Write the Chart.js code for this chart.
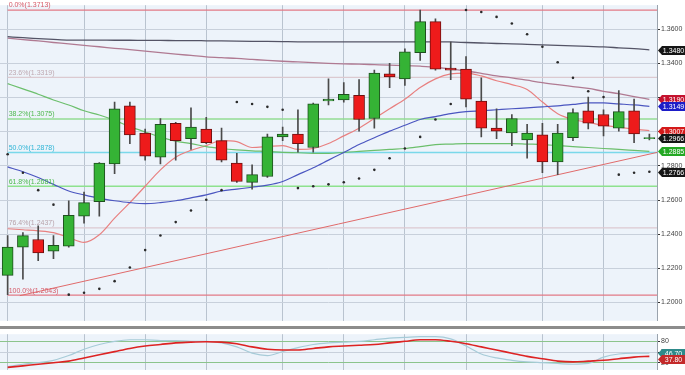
<!DOCTYPE html>
<html><head><meta charset="utf-8">
<script src="https://cdn.jsdelivr.net/npm/chart.js@4/dist/chart.umd.min.js"></script>
<style>
html,body{margin:0;padding:0;background:#fff;width:685px;height:375px;overflow:hidden}
#main{position:absolute;left:0;top:0}
#sep{position:absolute;left:0;top:326px;width:685px;height:3px;background:#8c8c8c}
#osc{position:absolute;left:0;top:329px}
</style></head><body>
<canvas id="main" width="685" height="326"></canvas>
<div id="sep"></div>
<canvas id="osc" width="685" height="46"></canvas>
<script>
// ---- data ----
const open  = [1.2159,1.2324,1.2369,1.2301,1.2330,1.2506,1.2590,1.2812,1.3152,1.2993,1.2851,1.3050,1.2959,1.3016,1.2948,1.2817,1.2704,1.2738,1.2970,1.2987,1.2908,1.3180,1.3186,1.3214,1.3078,1.3339,1.3310,1.3463,1.3645,1.3373,1.3367,1.3180,1.3021,1.2993,1.2953,1.2982,1.2823,1.2965,1.3123,1.3101,1.3021,1.3123,1.2959];
const high  = [1.2392,1.2409,1.2449,1.2392,1.2596,1.2647,1.2820,1.3174,1.3174,1.3016,1.3078,1.3055,1.3140,1.3084,1.3021,1.2874,1.2806,1.2987,1.3027,1.3129,1.3168,1.3310,1.3288,1.3305,1.3361,1.3401,1.3486,1.3713,1.3662,1.3526,1.3441,1.3316,1.3135,1.3101,1.3044,1.3050,1.3044,1.3135,1.3203,1.3129,1.3242,1.3191,1.2987];
const low   = [1.2046,1.2137,1.2245,1.2256,1.2324,1.2465,1.2506,1.2755,1.2931,1.2834,1.2812,1.2834,1.2897,1.2931,1.2823,1.2704,1.2664,1.2732,1.2948,1.2880,1.2880,1.3157,1.3174,1.3004,1.3021,1.3259,1.3271,1.3418,1.3361,1.3305,1.3146,1.2970,1.2959,1.2919,1.2846,1.2760,1.2749,1.2948,1.3016,1.2976,1.3004,1.2936,1.2953];
const close = [1.2324,1.2392,1.2290,1.2335,1.2511,1.2585,1.2817,1.3135,1.2982,1.2857,1.3044,1.2948,1.3027,1.2936,1.2834,1.2709,1.2749,1.2970,1.2987,1.2931,1.3163,1.3191,1.3220,1.3072,1.3344,1.3322,1.3469,1.3645,1.3367,1.3361,1.3191,1.3021,1.3004,1.3078,1.2993,1.2823,1.2993,1.3112,1.3050,1.3033,1.3118,1.2987,1.2966];

const ma200 = [1.3557,1.3551,1.3546,1.3541,1.3537,1.3537,1.3537,1.3536,1.3536,1.3535,1.3535,1.3534,1.3534,1.3533,1.3532,1.3531,1.3530,1.3529,1.3528,1.3527,1.3527,1.3527,1.3527,1.3527,1.3527,1.3527,1.3527,1.3527,1.3527,1.3526,1.3523,1.3520,1.3517,1.3515,1.3512,1.3509,1.3506,1.3503,1.3500,1.3497,1.3492,1.3487,1.3480];
const ma100 = [1.3549,1.3540,1.3532,1.3523,1.3515,1.3506,1.3498,1.3489,1.3481,1.3472,1.3464,1.3455,1.3447,1.3439,1.3434,1.3430,1.3424,1.3418,1.3413,1.3409,1.3405,1.3401,1.3398,1.3396,1.3393,1.3390,1.3388,1.3384,1.3378,1.3367,1.3356,1.3342,1.3327,1.3316,1.3302,1.3288,1.3276,1.3265,1.3254,1.3237,1.3223,1.3206,1.3190];
const ma50  = [1.2794,1.2766,1.2732,1.2692,1.2653,1.2630,1.2610,1.2596,1.2585,1.2579,1.2585,1.2596,1.2613,1.2630,1.2653,1.2664,1.2675,1.2687,1.2709,1.2749,1.2789,1.2834,1.2879,1.2925,1.2965,1.3004,1.3038,1.3072,1.3089,1.3106,1.3118,1.3123,1.3129,1.3135,1.3140,1.3146,1.3152,1.3160,1.3169,1.3169,1.3163,1.3157,1.3149];
const ma20  = [1.3282,1.3251,1.3220,1.3186,1.3157,1.3123,1.3098,1.3067,1.3030,1.2999,1.2970,1.2945,1.2931,1.2913,1.2902,1.2894,1.2888,1.2885,1.2879,1.2877,1.2874,1.2874,1.2879,1.2885,1.2891,1.2897,1.2902,1.2913,1.2925,1.2928,1.2931,1.2931,1.2931,1.2931,1.2928,1.2925,1.2919,1.2913,1.2908,1.2902,1.2897,1.2891,1.2885];
const ma10  = [1.2432,1.2426,1.2420,1.2409,1.2380,1.2352,1.2397,1.2494,1.2585,1.2681,1.2777,1.2851,1.2891,1.2919,1.2948,1.2942,1.2908,1.2913,1.2919,1.2897,1.2902,1.2931,1.2976,1.3021,1.3078,1.3135,1.3191,1.3259,1.3310,1.3339,1.3344,1.3327,1.3299,1.3276,1.3248,1.3174,1.3106,1.3072,1.3055,1.3038,1.3027,1.3016,1.3007];
const sar   = [1.2868,1.2760,1.2658,1.2573,1.2046,1.2057,1.2080,1.2125,1.2205,1.2307,1.2392,1.2471,1.2539,1.2602,1.2658,1.3174,1.3163,1.3146,1.3129,1.2670,1.2681,1.2692,1.2704,1.2726,1.2777,1.2845,1.2902,1.2970,1.3072,1.3163,1.3713,1.3702,1.3673,1.3634,1.3571,1.3498,1.3407,1.3316,1.3237,1.3203,1.2749,1.2760,1.2766];
const trendStart = [0.8, 1.2040];
const trendEnd   = [42.5, 1.2879];

const fibLabels = ["0.0%(1.3713)","23.6%(1.3319)","38.2%(1.3075)","50.0%(1.2878)","61.8%(1.2681)","76.4%(1.2437)","100.0%(1.2043)"];
const fibLevels = [1.3713,1.3319,1.3075,1.2878,1.2681,1.2437,1.2043];

const priceTicks = [1.36,1.34,1.32,1.30,1.28,1.26,1.24,1.22,1.20];
const oscTicks = [20,50,80];
const weekLines = [0,5,9,13,18,22,26,30,35,39];

const stochK = [8.9,15.6,20,26.7,40,57.8,71.1,80,84.4,84.4,82.2,82.2,80,80,75.6,64.4,46.7,40,51.1,62.2,71.1,75.6,77.8,80,84.4,88.9,91.1,93.3,93.3,86.7,66.7,44.4,33.3,26.7,22.2,20,17.8,15.6,17.8,35.6,44.4,46.7,46.7];
const stochD = [6.7,11.1,15.6,20,24.4,33.3,42.2,51.1,60,66.7,71.1,75.6,77.8,78.9,77.8,73.3,64.4,57.8,55.6,55.6,60,64.4,66.7,68.9,71.1,75.6,80,84.4,84.4,80,73.3,64.4,55.6,46.7,37.8,31.1,24.4,22.2,24.4,26.7,31.1,35.6,37.8];

// ---- styles ----
const FONT = "'Liberation Sans', Arial, sans-serif";
const BG = '#edf3fa';
const fibLine = ['#e27a86','#dcc9d0','#93dc93','#7ad8ea','#8ee28e','#dcc9d0','#e27a86'];
const fibText = ['#d65a68','#bfa9b1','#4fb84f','#2fb5d6','#4cba4c','#b8a2aa','#d65a68'];

const N = close.length;
const xy = arr => arr.map((v,i)=>({x:i,y:v}));
const up = close.map((c,i)=>c>=open[i]);

const bgPlugin = {
  id:'bg',
  beforeDraw(chart){
    const {ctx, chartArea:a} = chart;
    ctx.save(); ctx.fillStyle = BG;
    ctx.fillRect(a.left,a.top,a.right-a.left,a.bottom-a.top);
    ctx.restore();
  }
};

function drawTag(ctx, x, y, text, color){
  ctx.save();
  ctx.fillStyle = color;
  ctx.beginPath();
  ctx.moveTo(x, y);
  ctx.lineTo(x+4, y-4.5);
  ctx.lineTo(685, y-4.5);
  ctx.lineTo(685, y+4.5);
  ctx.lineTo(x+4, y+4.5);
  ctx.closePath(); ctx.fill();
  ctx.fillStyle = '#fff';
  ctx.font = '7px ' + FONT;
  ctx.textAlign = 'center'; ctx.textBaseline = 'middle';
  ctx.fillText(text, x+4+(685-x-4)/2, y+0.5);
  ctx.restore();
}

const fibPlugin = {
  id:'fib',
  afterDatasetsDraw(chart){
    const {ctx} = chart; const ys = chart.scales.y; const xs = chart.scales.x;
    ctx.save();
    ctx.font = '7px ' + FONT; ctx.textBaseline = 'bottom';
    fibLevels.forEach((v,k)=>{
      ctx.fillStyle = fibText[k];
      ctx.fillText(fibLabels[k], xs.getPixelForValue(0)+1, ys.getPixelForValue(v)-1);
    });
    ctx.restore();
  },
  afterDraw(chart){
    const {ctx} = chart; const ys = chart.scales.y; const x0 = chart.chartArea.right+1;
    const tags = [
      [ma200[N-1], '#161616'],
      [ma100[N-1], '#c4122e'],
      [ma50[N-1],  '#1d1dc8'],
      [ma10[N-1],  '#d41a1a'],
      [close[N-1], '#161616'],
      [ma20[N-1],  '#23a823'],
      [sar[N-1],   '#161616']
    ];
    tags.forEach(([v,c])=>drawTag(ctx, x0, Math.round(ys.getPixelForValue(v))+0.5, v.toFixed(4), c));
  }
};

const xScale = {
  type:'linear', min:-0.5, max:42.5, offset:false,
  afterBuildTicks: s => { s.ticks = weekLines.map(v=>({value:v})); },
  ticks:{display:false},
  grid:{color:'#b9c3cf', borderDash:[2,2], drawTicks:false, lineWidth:1, offset:false},
  border:{display:false}
};

const lineDs = (data, color, w, order) => ({
  type:'line', data:xy(data), borderColor:color, borderWidth:w, pointRadius:0,
  cubicInterpolationMode:'monotone', order:order, fill:false
});

const datasets = [
  {type:'bar', data:close.map((c,i)=>({x:i,y:[open[i],c]})), grouped:false, barThickness:11,
   backgroundColor: up.map(u=>u?'#35b335':'#ee1b1b'),
   borderColor: up.map(u=>u?'#1e4f1e':'#6e1010'), borderWidth:1, borderSkipped:false, order:1},
  {type:'bar', data:high.map((h,i)=>({x:i,y:[low[i],h]})), grouped:false, barThickness:1,
   backgroundColor:'#4a4a4a', borderWidth:0, order:2},
  {type:'line', data:xy(sar), showLine:false, pointRadius:1.3, pointBackgroundColor:'#2a2a2a', pointBorderWidth:0, order:0},
  lineDs(ma200,'#545466',1.3,5),
  lineDs(ma100,'#b07a92',1.3,5),
  lineDs(ma50,'#4b56c0',1.2,5),
  lineDs(ma20,'#6cbf6c',1.2,5),
  lineDs(ma10,'#e88080',1.2,5),
  {type:'line', data:[{x:trendStart[0],y:trendStart[1]},{x:trendEnd[0],y:trendEnd[1]}], borderColor:'#e06a6a', borderWidth:1, pointRadius:0, order:6}
];
fibLevels.forEach((v,k)=>{
  datasets.push({type:'line', data:[{x:0,y:v},{x:42.5,y:v}], borderColor:fibLine[k], borderWidth:k===2||k===3||k===4?1.5:1.2, pointRadius:0, order:7});
});

new Chart(document.getElementById('main'), {
  data:{datasets},
  options:{
    responsive:false, animation:false, events:[],
    layout:{padding:0, autoPadding:false},
    plugins:{legend:{display:false}, tooltip:{enabled:false}},
    scales:{
      x: xScale,
      y:{
        position:'right', min:1.18928, max:1.37414,
        afterBuildTicks: s => { s.ticks = priceTicks.map(v=>({value:v})); },
        afterFit: s => { s.width = 28; },
        ticks:{callback:v=>Number(v).toFixed(4), font:{size:7, family:FONT}, color:'#444', padding:1},
        grid:{color:'#c8d0db', borderDash:[1,2], tickLength:3, tickColor:'#333', tickBorderDash:[]},
        border:{display:true, color:'#9aa3ad'}
      }
    }
  },
  plugins:[bgPlugin, fibPlugin]
});

const oscTagPlugin = {
  id:'oscTag',
  afterDraw(chart){
    const ys = chart.scales.y; const x0 = chart.chartArea.right+1;
    drawTag(chart.ctx, x0, Math.round(ys.getPixelForValue(stochK[N-1]))+0.5, stochK[N-1].toFixed(2), '#2e8a8a');
    drawTag(chart.ctx, x0, Math.round(ys.getPixelForValue(stochD[N-1]))+3.5, stochD[N-1].toFixed(2), '#c42a2a');
  }
};

new Chart(document.getElementById('osc'), {
  data:{datasets:[
    {type:'line', data:xy(stochD), borderColor:'#dd2323', borderWidth:1.6, pointRadius:0, cubicInterpolationMode:'monotone', order:0},
    {type:'line', data:xy(stochK), borderColor:'#a6cbd8', borderWidth:1.2, pointRadius:0, cubicInterpolationMode:'monotone', order:1}
  ]},
  options:{
    responsive:false, animation:false, events:[],
    layout:{padding:{top:1}, autoPadding:false},
    plugins:{legend:{display:false}, tooltip:{enabled:false}},
    scales:{
      x: xScale,
      y:{
        position:'right', min:0, max:100,
        afterBuildTicks: s => { s.ticks = oscTicks.map(v=>({value:v})); },
        afterFit: s => { s.width = 28; },
        ticks:{font:{size:7, family:FONT}, color:'#444', padding:1},
        grid:{color: c => (c.tick && c.tick.value!==50) ? '#8cc48c' : '#c8d0db', borderDash:[3,2], tickLength:3, tickColor:'#333', tickBorderDash:[]},
        border:{display:true, color:'#9aa3ad'}
      }
    }
  },
  plugins:[bgPlugin, oscTagPlugin]
});
</script>
</body></html>
